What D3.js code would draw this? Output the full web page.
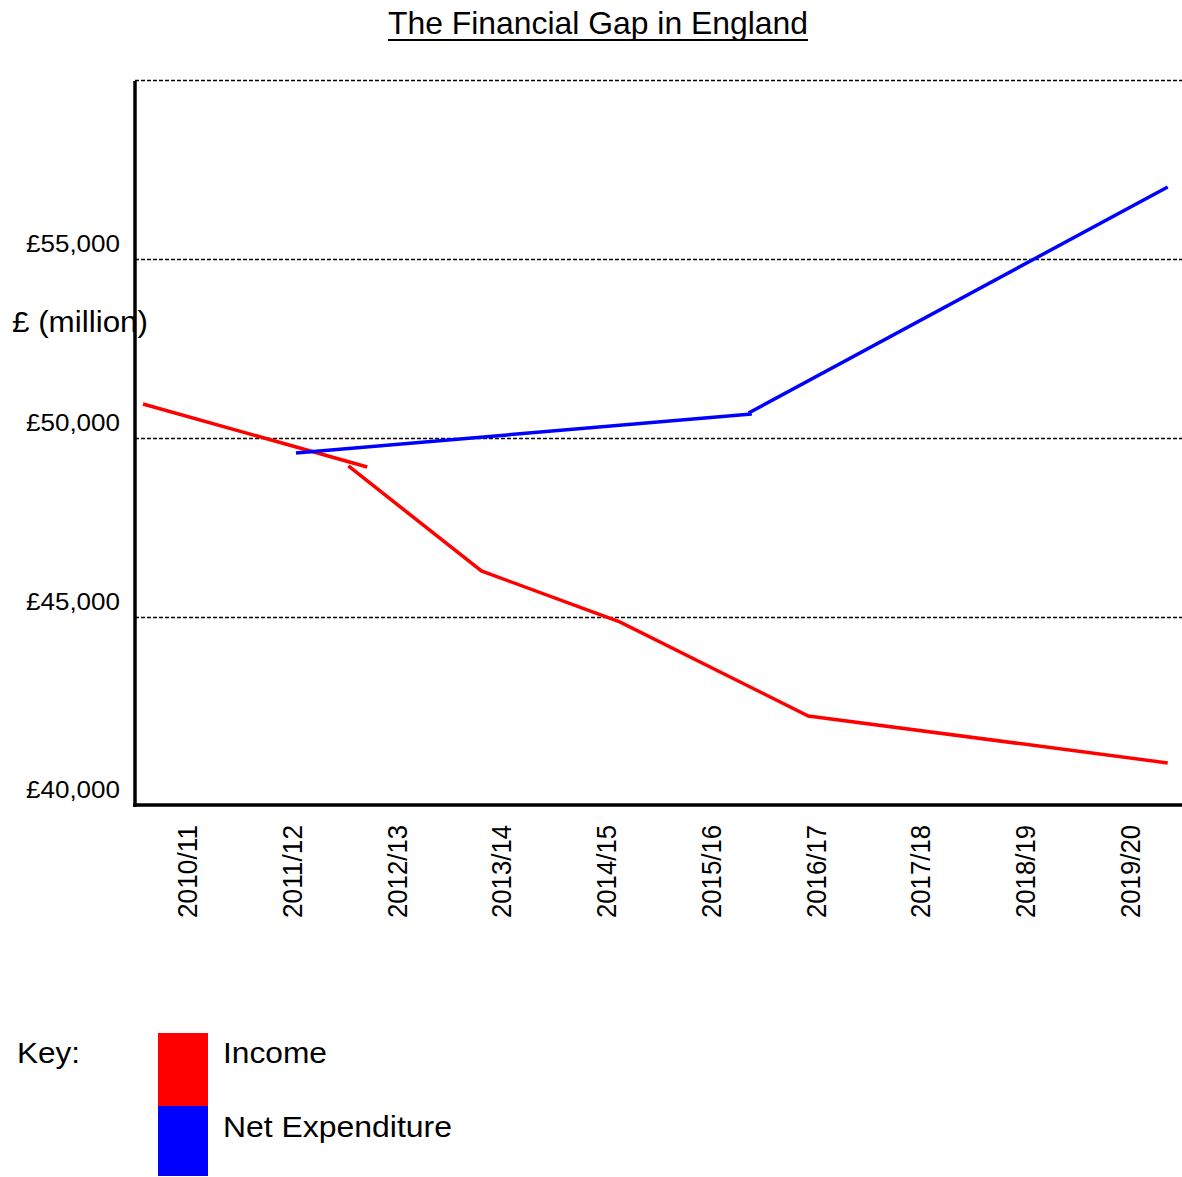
<!DOCTYPE html>
<html>
<head>
<meta charset="utf-8">
<script src="https://cdn.jsdelivr.net/npm/d3@7"></script>
<style>
  html, body { margin: 0; padding: 0; background: #fff; }
  svg { display: block; font-family: "Liberation Sans", Arial, Helvetica, sans-serif; }
</style>
</head>
<body>
<svg id="chart" width="1182" height="1177"></svg>
<script>
// ---------- DATA ----------
const title = "The Financial Gap in England";
const yAxisTitle = "£ (million)";
const periods = ["2010/11", "2011/12", "2012/13", "2013/14", "2014/15",
                 "2015/16", "2016/17", "2017/18", "2018/19", "2019/20"];
const gridValues = [60000, 55000, 50000, 45000];
const tickValues = [55000, 50000, 45000, 40000];
const tickLabels = ["£55,000", "£50,000", "£45,000", "£40,000"];

// series drawn as separate strokes; t = position along the year axis (0 = 2010/11)
const incomeSegments = [
  [{t: -0.42, v: 50950}, {t: 1.72, v: 49190}],
  [{t: 1.54, v: 49220}, {t: 2.81, v: 46286}, {t: 4.13, v: 44862},
   {t: 5.93, v: 42235}, {t: 9.36, v: 40924}]
];
const expenditureSegments = [
  [{t: 1.04, v: 49582}, {t: 5.39, v: 50671}],
  [{t: 5.36, v: 50700}, {t: 9.36, v: 57012}]
];
const seriesNames = ["Income", "Net Expenditure"];
const seriesColors = ["#ff0000", "#0000ff"];

// ---------- LAYOUT ----------
const svg = d3.select("#chart");
const plotLeft = 135, plotRight = 1182, plotTop = 80, plotBottom = 805;

const x = d3.scaleLinear().domain([0, periods.length - 1]).range([187, 1130]);
const y = d3.scaleLinear().domain([45000, 60000]).range([617, 80]);

// title
svg.append("text")
  .attr("x", 598).attr("y", 34)
  .attr("text-anchor", "middle")
  .attr("font-size", 32)
  .attr("textLength", 420).attr("lengthAdjust", "spacingAndGlyphs")
  .text(title);
svg.append("line")
  .attr("x1", 388).attr("x2", 808).attr("y1", 40).attr("y2", 40)
  .attr("stroke", "#000").attr("stroke-width", 2);

// y axis title (drawn under the axis line)
svg.append("text")
  .attr("x", 12).attr("y", 332)
  .attr("font-size", 29)
  .attr("textLength", 136).attr("lengthAdjust", "spacingAndGlyphs")
  .text(yAxisTitle);

// gridlines
svg.append("g").selectAll("line")
  .data(gridValues).join("line")
  .attr("x1", plotLeft).attr("x2", plotRight)
  .attr("y1", d => Math.round(y(d)) + 0.5).attr("y2", d => Math.round(y(d)) + 0.5)
  .attr("stroke", "#000").attr("stroke-width", 1.4)
  .attr("stroke-dasharray", "4,2");

// y tick labels
svg.append("g").selectAll("text")
  .data(tickValues).join("text")
  .attr("x", 120)
  .attr("y", (d, i) => (i === tickValues.length - 1 ? plotBottom : y(d)) - 7)
  .attr("text-anchor", "end")
  .attr("font-size", 23.5)
  .attr("textLength", 94).attr("lengthAdjust", "spacingAndGlyphs")
  .text((d, i) => tickLabels[i]);

// x tick labels (rotated)
svg.append("g").selectAll("text")
  .data(periods).join("text")
  .attr("transform", (d, i) => `translate(${x(i) + 10},918) rotate(-90)`)
  .attr("text-anchor", "start")
  .attr("font-size", 28)
  .attr("textLength", 93).attr("lengthAdjust", "spacingAndGlyphs")
  .text(d => d);

// lines
const line = d3.line().x(d => x(d.t)).y(d => y(d.v));
const allSeries = [incomeSegments, expenditureSegments];
allSeries.forEach((segs, si) => {
  svg.append("g").selectAll("path")
    .data(segs).join("path")
    .attr("d", line)
    .attr("fill", "none")
    .attr("stroke", seriesColors[si])
    .attr("stroke-width", 3.5)
    .attr("stroke-linejoin", "miter");
});

// axes lines
svg.append("line")
  .attr("x1", plotLeft).attr("x2", plotLeft)
  .attr("y1", plotTop + 1).attr("y2", plotBottom + 2)
  .attr("stroke", "#000").attr("stroke-width", 3.5);
svg.append("line")
  .attr("x1", plotLeft - 2).attr("x2", plotRight)
  .attr("y1", plotBottom).attr("y2", plotBottom)
  .attr("stroke", "#000").attr("stroke-width", 3.5);

// legend
svg.append("text")
  .attr("x", 17).attr("y", 1063)
  .attr("font-size", 29)
  .attr("textLength", 63).attr("lengthAdjust", "spacingAndGlyphs")
  .text("Key:");
const legendTop = [1033, 1106];
const legendH = [73, 70];
const legendTextY = [1063, 1137];
const legendTextW = [104, 229];
seriesNames.forEach((name, i) => {
  svg.append("rect")
    .attr("x", 158).attr("y", legendTop[i])
    .attr("width", 50).attr("height", legendH[i])
    .attr("fill", seriesColors[i]);
  svg.append("text")
    .attr("x", 223).attr("y", legendTextY[i])
    .attr("font-size", 29)
    .attr("textLength", legendTextW[i]).attr("lengthAdjust", "spacingAndGlyphs")
    .text(name);
});
</script>
</body>
</html>
